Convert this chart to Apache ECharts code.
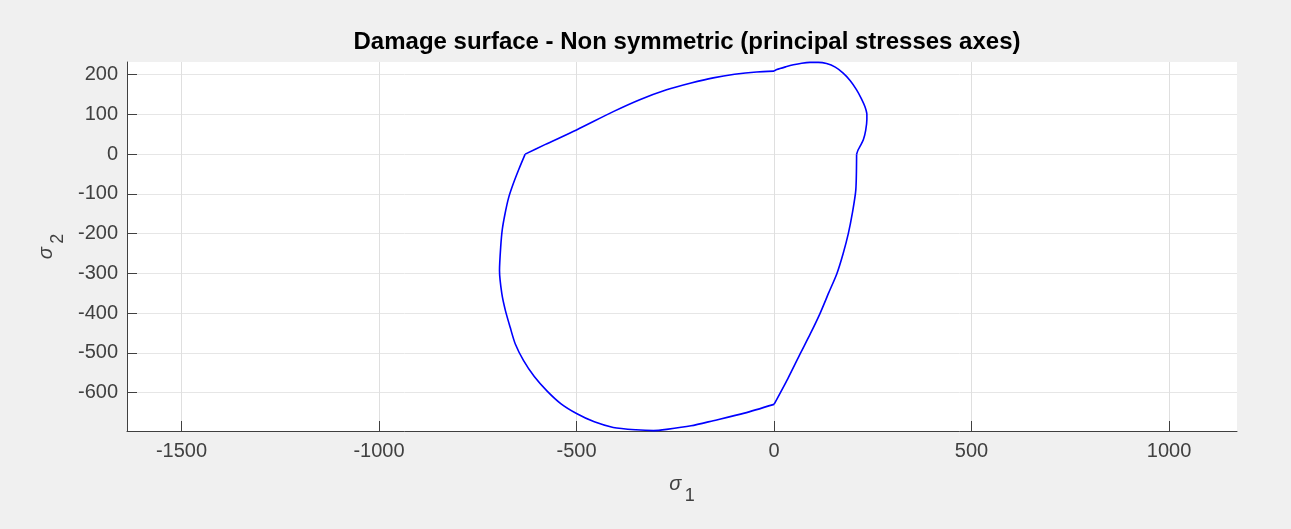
<!DOCTYPE html>
<html>
<head>
<meta charset="utf-8">
<script src="https://cdn.jsdelivr.net/npm/echarts@6/dist/echarts.min.js"></script>
<style>
html,body{margin:0;padding:0;background:#f0f0f0;}
#chart{width:1291px;height:529px;}
</style>
</head>
<body>
<div id="chart"></div>
<script>
// Damage surface outline (sigma1, sigma2)
const sigma1 = [-630,-580,-500,-407,-340,-272,-210,-154,-100,-44,0,
  7,30,49,70,91,112,133,155,175,193,209,221,230,235,235,232,226,218,213,209,
  207,198,188,175,159,138,116,92,66,35,0,
  -75,-154,-210,-272,-305,-350,-407,-455,-500,-540,-575,-607,-634,-655,-668,-680,-689,-695,-692,-688,-681,-672,-660,-646,-630];
const sigma2 = [0,24,61,107,137,162,179,192,201,207,209,
  213,220,225,229,231,231,228,219,204,185,162,140,120,100,87,60,36,20,11,0,
  -90,-150,-200,-250,-301,-350,-402,-452,-503,-565,-630,
  -652,-671,-684,-693,-696,-694,-688,-674,-653,-628,-596,-560,-520,-478,-436,-394,-352,-293,-234,-190,-150,-110,-74,-38,0];
// indices where the outline has a kink (segment boundaries)
const corners = [0, 10, 30, 41, 66];
const xTicks = [-1500,-1000,-500,0,500,1000];
const yTicks = [-600,-500,-400,-300,-200,-100,0,100,200];
const xRange = [-1638, 1172];
const yRange = [-697, 232];
const titleText = 'Damage surface - Non symmetric (principal stresses axes)';

const points = sigma1.map((v, i) => [v, sigma2[i]]);
const segments = [];
for (let k = 0; k < corners.length - 1; k++) {
  segments.push(points.slice(corners[k], corners[k + 1] + 1));
}
const chart = echarts.init(document.getElementById('chart'));
const fontFamily = '"Liberation Sans", Arial, Helvetica, sans-serif';
const plain = v => String(v);
chart.setOption({
  backgroundColor: '#f0f0f0',
  animation: false,
  title: {
    text: titleText,
    left: 682,
    top: 25,
    textAlign: 'center',
    textStyle: {fontFamily, fontSize: 24, fontWeight: 'bold', color: '#000'}
  },
  grid: {left: 127, top: 62, width: 1110, height: 369, backgroundColor: '#fff', show: true, borderWidth: 0},
  xAxis: {
    type: 'value', min: xRange[0], max: xRange[1],
    axisLine: {show: true, onZero: false, lineStyle: {color: '#404040', width: 1}},
    axisTick: {show: true, inside: true, length: 10, customValues: xTicks, lineStyle: {color: '#404040'}},
    axisLabel: {customValues: xTicks, formatter: plain, margin: 10, fontFamily, fontSize: 20, color: '#404040'},
    splitLine: {show: true, lineStyle: {color: '#dfdfdf', width: 1}},
    name: '{s|σ} {b|1}',
    nameLocation: 'middle',
    nameGap: 32,
    nameTextStyle: {
      rich: {
        s: {fontFamily, fontSize: 20, fontStyle: 'italic', color: '#404040'},
        b: {fontFamily, fontSize: 18, color: '#404040', padding: [24, 0, 0, 0]}
      }
    }
  },
  yAxis: {
    type: 'value', min: yRange[0], max: yRange[1],
    axisLine: {show: true, onZero: false, lineStyle: {color: '#404040', width: 1}},
    axisTick: {show: true, inside: true, length: 10, customValues: yTicks, lineStyle: {color: '#404040'}},
    axisLabel: {customValues: yTicks, formatter: plain, margin: 9, fontFamily, fontSize: 20, color: '#404040'},
    splitLine: {show: true, lineStyle: {color: '#e6e6e6', width: 1}},
    name: '{s|σ} {b|2}',
    nameLocation: 'middle',
    nameGap: 53,
    nameRotate: 90,
    nameTextStyle: {
      rich: {
        s: {fontFamily, fontSize: 20, fontStyle: 'italic', color: '#404040'},
        b: {fontFamily, fontSize: 18, color: '#404040', padding: [24, 0, 0, 0]}
      }
    }
  },
  series: segments.map(seg => ({
    type: 'line',
    data: seg,
    showSymbol: false,
    smooth: 0.25,
    lineStyle: {color: '#0000ff', width: 1.6},
    clip: false
  }))
});
</script>
</body>
</html>
